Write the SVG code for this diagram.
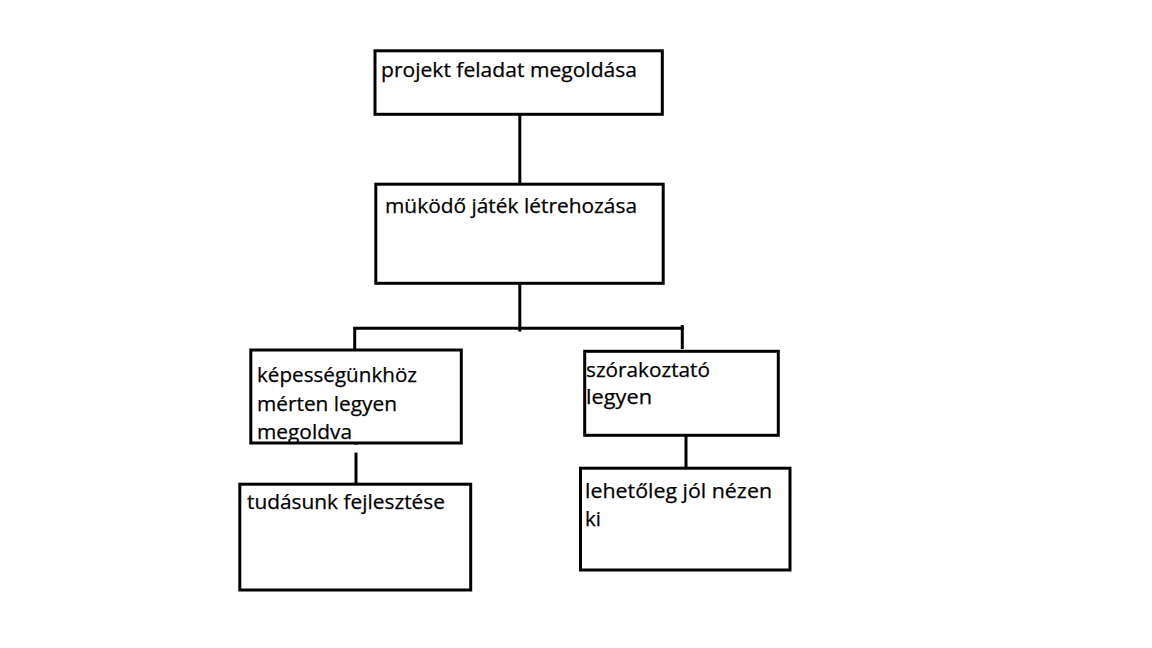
<svg xmlns="http://www.w3.org/2000/svg" width="1152" height="648" viewBox="0 0 1152 648">
<style>
.box{fill:none;stroke:#000;stroke-width:3}
.lbl{font-family:"Open Sans","Liberation Sans",sans-serif;font-size:20.5px;fill:#000;stroke:#000;stroke-width:0.25}
.con{stroke:#000;stroke-width:3;fill:none}
</style>
<rect width="1152" height="648" fill="#fff"/>
<g id="connectors">
<line class="con" x1="519.8" y1="114" x2="519.8" y2="184"/>
<line class="con" x1="519.8" y1="283" x2="519.8" y2="331.5"/>
<line class="con" x1="353.3" y1="328.3" x2="683.7" y2="328.3"/>
<line class="con" x1="354.7" y1="327" x2="354.7" y2="350"/>
<line class="con" x1="682.3" y1="325" x2="682.3" y2="349"/>
<line class="con" x1="356" y1="443" x2="356" y2="484"/>
<line class="con" x1="686" y1="435" x2="686" y2="468"/>
</g>
<g id="node1">
<text class="lbl" x="381" y="77" textLength="256" lengthAdjust="spacingAndGlyphs">projekt feladat megoldása</text>
<rect class="box" x="375" y="50.8" width="287.3" height="63.5"/>
</g>
<g id="node2">
<text class="lbl" x="385" y="212.5" textLength="252" lengthAdjust="spacingAndGlyphs">müködő játék létrehozása</text>
<rect class="box" x="375.8" y="184.2" width="287.4" height="99.1"/>
</g>
<g id="node3">
<text class="lbl" x="257" y="381.5" textLength="160" lengthAdjust="spacingAndGlyphs">képességünkhöz</text>
<text class="lbl" x="257" y="410.5" textLength="140" lengthAdjust="spacingAndGlyphs">mérten legyen</text>
<text class="lbl" x="257" y="439" textLength="95" lengthAdjust="spacingAndGlyphs">megoldva</text>
<rect x="248" y="444.6" width="216" height="8" fill="#fff"/>
<rect class="box" x="250.8" y="350" width="210.5" height="93"/>
</g>
<g id="node4">
<text class="lbl" x="586" y="376.5" textLength="124" lengthAdjust="spacingAndGlyphs">szórakoztató</text>
<text class="lbl" x="586" y="404" textLength="66" lengthAdjust="spacingAndGlyphs">legyen</text>
<rect class="box" x="584.7" y="351.3" width="193.6" height="84"/>
</g>
<g id="node5">
<text class="lbl" x="247" y="508.5" textLength="198" lengthAdjust="spacingAndGlyphs">tudásunk fejlesztése</text>
<rect class="box" x="239.8" y="484.2" width="230.9" height="105.8"/>
</g>
<g id="node6">
<text class="lbl" x="585" y="497.5" textLength="187" lengthAdjust="spacingAndGlyphs">lehetőleg jól nézen</text>
<text class="lbl" x="585" y="525.5">ki</text>
<rect class="box" x="580.5" y="468.2" width="209.5" height="101.8"/>
</g>
</svg>
